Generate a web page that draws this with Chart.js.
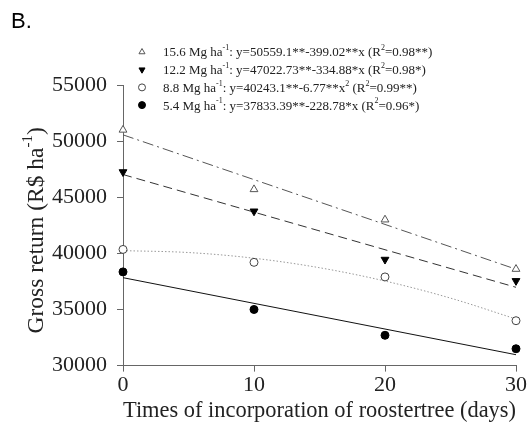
<!DOCTYPE html>
<html>
<head>
<meta charset="utf-8">
<script src="https://cdn.jsdelivr.net/npm/chart.js@4.4.1/dist/chart.umd.min.js"></script>
<style>
  html, body { margin: 0; padding: 0; background: #fff; }
  #wrap { width: 531px; height: 438px; position: relative; }
</style>
</head>
<body>
<div id="wrap"><canvas id="chart" width="531" height="438"></canvas></div>
<script>
// ==========================
// Data
// ==========================

const days = [0, 10, 20, 30];

const obs156 = [51000, 45700, 43000, 38600];
const obs122 = [47250, 43750, 39450, 37550];
const obs88  = [40350, 39200, 37900, 34000];
const obs54  = [38350, 35000, 32700, 31500];

// fitted lines (end points / curve points as drawn)
const fitDaysLin = [0, 30];
const fit156 = [50559, 38588];
const fit122 = [47023, 36976];
const fit54  = [37833, 30970];

const fitDaysQuad = [0, 5, 10, 15, 20, 25, 30];
const fit88 = [40243, 40074, 39566, 38720, 37535, 36012, 34150];

const xTicks = [0, 10, 20, 30];
const yTicks = [30000, 35000, 40000, 45000, 50000, 55000];

const legendRows = [
    { marker: 0, parts: [["15.6 Mg ha"], ["-1", 1], [": y=50559.1**-399.02**x (R"], ["2", 1], ["=0.98**)"]] },
    { marker: 1, parts: [["12.2 Mg ha"], ["-1", 1], [": y=47022.73**-334.88*x (R"], ["2", 1], ["=0.98*)"]] },
    { marker: 2, parts: [["8.8 Mg ha"], ["-1", 1], [": y=40243.1**-6.77**x"], ["2", 1], [" (R"], ["2", 1], ["=0.99**)"]] },
    { marker: 3, parts: [["5.4 Mg ha"], ["-1", 1], [": y=37833.39**-228.78*x (R"], ["2", 1], ["=0.96*)"]] }
];

const yTitleParts = [["Gross return (R$ ha"], ["-1", 1], [")"]];

function pts(xs, ys) {
    return xs.map((x, i) => ({ x: x, y: ys[i] }));
}

const SERIF = "'Liberation Serif', 'Times New Roman', serif";

// ==========================
// Text helper with superscripts
// ==========================

function drawRich(ctx, parts, x, y, size) {
    let cx = x;
    parts.forEach(p => {
        const sup = p[1] === 1;
        ctx.font = (sup ? Math.round(size * 0.62) : size) + "px " + SERIF;
        ctx.fillText(p[0], cx, sup ? y - size * 0.38 : y);
        cx += ctx.measureText(p[0]).width;
    });
    return cx - x;
}

function richWidth(ctx, parts, size) {
    let w = 0;
    parts.forEach(p => {
        const sup = p[1] === 1;
        ctx.font = (sup ? Math.round(size * 0.62) : size) + "px " + SERIF;
        w += ctx.measureText(p[0]).width;
    });
    return w;
}

const extrasPlugin = {
    id: "extras",
    afterDraw(chart) {
        const ctx = chart.ctx;
        ctx.save();

        // panel letter
        ctx.fillStyle = "#000";
        ctx.font = "22px 'Liberation Sans', Arial, sans-serif";
        ctx.textBaseline = "alphabetic";
        ctx.textAlign = "left";
        ctx.fillText("B.", 11, 28);

        // legend
        ctx.textBaseline = "middle";
        legendRows.forEach((row, i) => {
            const y = 52 + i * 17.7;
            const ds = chart.data.datasets[row.marker];
            ctx.fillStyle = ds.backgroundColor;
            ctx.strokeStyle = ds.borderColor;
            ctx.lineWidth = 1;
            Chart.helpers.drawPoint(ctx, {
                pointStyle: ds.pointStyle,
                rotation: ds.pointRotation || 0,
                radius: 3.5,
                borderWidth: 1
            }, 142, y);
            ctx.fillStyle = "#222";
            drawRich(ctx, row.parts, 163, y + 1, 13);
        });

        // y axis title (rotated)
        const size = 23.5;
        const w = richWidth(ctx, yTitleParts, size);
        const cy = (chart.chartArea.top + chart.chartArea.bottom) / 2 + 5;
        ctx.translate(37, cy);
        ctx.rotate(-Math.PI / 2);
        ctx.fillStyle = "#222";
        ctx.textBaseline = "middle";
        drawRich(ctx, yTitleParts, -w / 2, 0, size);

        ctx.restore();
    }
};

// ==========================
// Chart
// ==========================

const ctx = document.getElementById("chart");

const axisColor = "#666";

new Chart(ctx, {
    type: "scatter",
    data: {
        datasets: [
            {
                label: "15.6 Mg ha-1",
                data: pts(days, obs156),
                pointStyle: "triangle",
                pointRadius: 4.5,
                backgroundColor: "#fff",
                borderColor: "#555",
                borderWidth: 1,
                showLine: false,
                clip: false
            },
            {
                label: "12.2 Mg ha-1",
                data: pts(days, obs122),
                pointStyle: "triangle",
                pointRotation: 180,
                pointRadius: 4.5,
                backgroundColor: "#000",
                borderColor: "#000",
                borderWidth: 1,
                showLine: false,
                clip: false
            },
            {
                label: "8.8 Mg ha-1",
                data: pts(days, obs88),
                pointStyle: "circle",
                pointRadius: 4,
                backgroundColor: "#fff",
                borderColor: "#444",
                borderWidth: 1,
                showLine: false,
                clip: false
            },
            {
                label: "5.4 Mg ha-1",
                data: pts(days, obs54),
                pointStyle: "circle",
                pointRadius: 4,
                backgroundColor: "#000",
                borderColor: "#000",
                borderWidth: 1,
                showLine: false,
                clip: false
            },
            {
                label: "fit 15.6",
                data: pts(fitDaysLin, fit156),
                showLine: true,
                pointRadius: 0,
                borderColor: "#555",
                borderWidth: 1,
                borderDash: [11, 4, 2, 4]
            },
            {
                label: "fit 12.2",
                data: pts(fitDaysLin, fit122),
                showLine: true,
                pointRadius: 0,
                borderColor: "#333",
                borderWidth: 1,
                borderDash: [9, 5]
            },
            {
                label: "fit 8.8",
                data: pts(fitDaysQuad, fit88),
                showLine: true,
                pointRadius: 0,
                borderColor: "#999",
                borderWidth: 1,
                borderDash: [1.5, 2],
                cubicInterpolationMode: "monotone"
            },
            {
                label: "fit 5.4",
                data: pts(fitDaysLin, fit54),
                showLine: true,
                pointRadius: 0,
                borderColor: "#111",
                borderWidth: 1
            }
        ]
    },
    options: {
        responsive: false,
        animation: false,
        layout: {
            padding: { top: 85, left: 52, right: 15, bottom: 13 }
        },
        plugins: {
            legend: { display: false },
            tooltip: { enabled: false }
        },
        scales: {
            x: {
                type: "linear",
                min: 0,
                max: 30,
                afterBuildTicks: axis => { axis.ticks = xTicks.map(v => ({ value: v })); },
                ticks: {
                    color: "#222",
                    font: { family: SERIF, size: 22 },
                    padding: 0,
                    callback: v => String(v)
                },
                grid: {
                    display: true,
                    drawOnChartArea: false,
                    drawTicks: true,
                    tickLength: 6,
                    color: axisColor
                },
                border: { display: true, color: axisColor, width: 1 },
                title: {
                    display: true,
                    text: "Times of incorporation of roostertree (days)",
                    color: "#222",
                    font: { family: SERIF, size: 22.5 },
                    padding: { top: 0, bottom: 0 }
                }
            },
            y: {
                min: 30000,
                max: 55000,
                afterBuildTicks: axis => { axis.ticks = yTicks.map(v => ({ value: v })); },
                afterFit: axis => { axis.width = 71; },
                ticks: {
                    color: "#222",
                    font: { family: SERIF, size: 22 },
                    padding: 10,
                    callback: v => String(v)
                },
                grid: {
                    display: true,
                    drawOnChartArea: false,
                    drawTicks: true,
                    tickLength: 6,
                    color: axisColor
                },
                border: { display: true, color: axisColor, width: 1 }
            }
        }
    },
    plugins: [extrasPlugin]
});
</script>
</body>
</html>
